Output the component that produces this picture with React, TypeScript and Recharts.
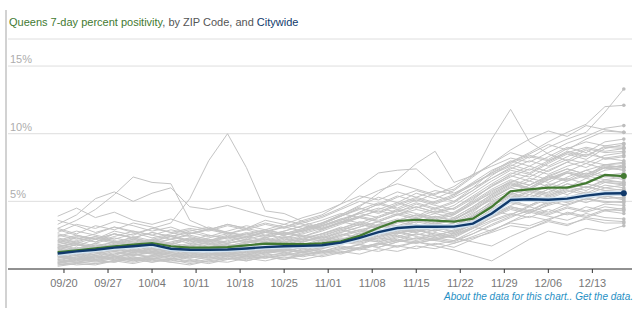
import { LineChart, Line, XAxis, YAxis, CartesianGrid } from "recharts";

// days counted from 09/20 (sampled every 3 days, 09/19 .. 12/18)
const dayOffsets = [-1, 2, 5, 8, 11, 14, 17, 20, 23, 26, 29, 32, 35, 38, 41, 44, 47, 50, 53, 56, 59, 62, 65, 68, 71, 74, 77, 80, 83, 86, 89];

const tickDays = [0, 7, 14, 21, 28, 35, 42, 49, 56, 63, 70, 77, 84];
const tickLabels = ["09/20", "09/27", "10/04", "10/11", "10/18", "10/25", "11/01", "11/08", "11/15", "11/22", "11/29", "12/06", "12/13"];

const yTicks = [5, 10, 15];

const queens = [1.25, 1.37, 1.52, 1.68, 1.8, 1.92, 1.68, 1.58, 1.58, 1.62, 1.74, 1.88, 1.86, 1.84, 1.9, 2.05, 2.45, 3.05, 3.55, 3.64, 3.58, 3.5, 3.72, 4.6, 5.75, 5.88, 6.02, 6.02, 6.35, 6.95, 6.87];
const citywide = [1.15, 1.3, 1.42, 1.58, 1.68, 1.8, 1.5, 1.42, 1.41, 1.44, 1.52, 1.62, 1.68, 1.71, 1.76, 1.95, 2.3, 2.72, 3.03, 3.12, 3.12, 3.13, 3.35, 4.1, 5.1, 5.15, 5.12, 5.2, 5.42, 5.58, 5.6];

// one list per ZIP code
const zipLines = [
  [0.3, 0.4, 0.6, 0.5, 0.8, 0.7, 0.5, 0.6, 0.4, 0.7, 0.9, 0.8, 1.0, 1.2, 1.1, 1.4, 1.6, 1.9, 1.7, 2.0, 1.8, 2.1, 2.6, 3.3, 3.9, 4.3, 4.0, 4.5, 4.2, 4.6, 4.4],
  [0.6, 0.5, 0.8, 1.0, 0.7, 0.9, 1.2, 1.0, 0.8, 1.1, 0.9, 1.2, 1.5, 1.3, 1.6, 1.9, 2.3, 2.1, 2.5, 2.2, 2.7, 2.4, 3.0, 3.8, 4.6, 4.3, 4.9, 5.4, 5.1, 5.6, 5.4],
  [1.0, 0.8, 0.6, 0.9, 1.1, 0.8, 0.7, 1.0, 1.2, 0.9, 1.1, 1.4, 1.3, 1.6, 1.9, 2.2, 2.0, 2.5, 2.8, 2.4, 2.2, 2.6, 3.1, 2.8, 3.5, 4.2, 3.9, 3.6, 4.1, 3.8, 3.7],
  [0.8, 1.1, 1.3, 1.0, 1.4, 1.2, 1.0, 1.3, 1.1, 1.4, 1.6, 1.3, 1.8, 1.6, 2.0, 2.4, 2.8, 2.6, 3.0, 3.3, 2.9, 3.2, 3.8, 4.6, 5.5, 5.9, 5.6, 6.3, 6.0, 6.6, 6.4],
  [0.4, 0.7, 0.5, 0.8, 0.6, 1.0, 1.3, 1.1, 1.5, 1.2, 1.0, 1.4, 1.7, 1.5, 1.8, 2.1, 1.9, 2.3, 2.7, 2.9, 2.6, 2.3, 2.0, 1.7, 2.4, 3.0, 3.6, 3.3, 3.7, 3.4, 3.4],
  [1.3, 1.5, 1.2, 1.6, 1.9, 1.5, 1.3, 1.6, 1.4, 1.7, 2.0, 1.8, 2.2, 2.0, 2.5, 2.9, 3.3, 3.0, 3.5, 3.8, 3.4, 3.7, 4.3, 5.2, 6.0, 5.7, 6.3, 6.0, 6.7, 6.4, 6.3],
  [0.9, 0.6, 1.0, 1.3, 1.1, 1.4, 1.7, 1.4, 1.2, 1.0, 1.3, 1.5, 1.4, 1.8, 1.6, 2.0, 2.4, 2.2, 2.6, 2.9, 2.5, 2.8, 3.2, 3.9, 4.5, 4.2, 4.7, 5.1, 5.5, 5.2, 5.3],
  [1.6, 1.3, 1.8, 1.5, 1.2, 1.6, 1.9, 1.7, 2.0, 1.8, 1.5, 1.9, 2.3, 2.0, 2.4, 2.9, 2.6, 3.1, 3.5, 3.2, 3.0, 3.4, 4.1, 4.9, 5.6, 6.2, 6.8, 6.5, 7.1, 6.8, 6.9],
  [0.5, 0.3, 0.4, 0.6, 0.9, 0.6, 0.8, 0.5, 0.7, 1.0, 0.8, 1.1, 1.0, 1.3, 1.2, 1.5, 1.8, 1.6, 2.0, 2.3, 2.1, 1.9, 2.3, 2.7, 3.2, 3.0, 3.5, 3.2, 3.8, 3.6, 3.5],
  [1.2, 1.0, 1.4, 1.7, 1.4, 1.8, 1.6, 1.3, 1.5, 1.8, 1.6, 2.0, 1.8, 2.2, 2.1, 2.5, 2.9, 3.2, 2.9, 2.7, 3.1, 3.4, 3.9, 4.8, 5.5, 5.2, 5.9, 5.5, 6.1, 5.8, 5.9],
  [2.0, 1.7, 2.2, 1.9, 2.4, 2.1, 1.8, 2.2, 2.0, 2.4, 2.2, 1.9, 2.3, 2.6, 3.0, 3.5, 3.9, 3.6, 4.1, 3.8, 4.3, 4.0, 4.8, 5.7, 6.5, 6.2, 6.9, 6.6, 7.3, 7.7, 7.5],
  [1.4, 1.8, 1.6, 1.3, 1.7, 2.0, 1.7, 1.5, 1.8, 1.6, 1.9, 2.2, 2.0, 2.4, 2.2, 2.7, 3.1, 3.5, 3.2, 3.6, 3.3, 3.7, 4.4, 5.3, 6.1, 6.7, 6.4, 7.1, 6.8, 7.5, 7.3],
  [2.4, 2.8, 2.5, 2.2, 2.6, 3.0, 2.7, 2.4, 2.1, 2.5, 2.3, 2.7, 2.5, 2.9, 3.3, 3.9, 4.4, 4.9, 4.5, 5.1, 4.7, 4.4, 5.2, 6.1, 7.0, 7.6, 7.2, 7.9, 8.5, 8.2, 8.4],
  [0.7, 0.9, 1.1, 1.4, 1.2, 1.5, 1.3, 1.7, 1.5, 1.3, 1.6, 1.4, 1.7, 1.5, 1.9, 2.3, 2.1, 2.6, 3.0, 2.7, 3.1, 2.8, 3.5, 4.4, 5.1, 5.7, 5.4, 5.9, 6.3, 6.0, 6.2],
  [1.8, 2.1, 2.4, 2.0, 2.3, 1.9, 2.2, 2.5, 2.2, 2.0, 2.4, 2.7, 2.5, 2.8, 3.2, 3.7, 4.1, 3.8, 4.3, 4.6, 4.2, 4.5, 5.4, 6.3, 7.1, 6.8, 7.5, 8.1, 7.8, 8.4, 8.6],
  [3.0, 2.6, 3.2, 2.9, 3.4, 3.1, 2.7, 3.0, 2.8, 3.2, 2.9, 3.3, 3.0, 3.4, 3.8, 4.4, 5.0, 4.7, 5.3, 5.8, 5.4, 5.0, 5.8, 6.9, 7.8, 8.4, 8.1, 8.9, 9.4, 9.1, 9.3],
  [1.1, 1.4, 1.2, 0.9, 1.2, 1.5, 1.8, 1.5, 1.3, 1.6, 1.4, 1.7, 1.5, 1.9, 1.7, 2.1, 2.5, 2.9, 2.6, 3.0, 2.8, 3.2, 4.0, 5.0, 5.6, 5.3, 5.9, 6.5, 6.9, 6.6, 6.8],
  [2.7, 3.3, 3.0, 3.5, 3.2, 2.8, 3.1, 2.6, 2.9, 3.3, 3.0, 3.6, 3.3, 3.8, 4.2, 4.8, 5.4, 5.1, 5.7, 5.3, 5.8, 5.5, 6.4, 7.3, 7.9, 8.5, 9.2, 8.8, 9.6, 10.2, 10.1],
  [0.5, 0.8, 0.6, 0.9, 0.7, 0.5, 0.8, 1.1, 0.9, 0.7, 1.0, 1.3, 1.1, 1.5, 1.3, 1.7, 1.5, 1.9, 2.2, 2.0, 1.7, 1.4, 1.0, 0.6, 1.4, 2.2, 2.8, 2.5, 3.0, 2.8, 3.2],
  [1.5, 1.2, 1.5, 1.8, 2.1, 1.8, 1.5, 1.8, 2.1, 1.9, 2.2, 2.0, 2.4, 2.2, 2.6, 3.1, 2.8, 3.3, 3.7, 3.4, 3.9, 3.6, 4.5, 5.4, 6.2, 5.9, 6.6, 7.1, 6.8, 7.5, 7.3],
  [0.2, 0.4, 0.3, 0.6, 0.4, 0.7, 0.5, 0.3, 0.6, 0.5, 0.8, 0.6, 0.9, 0.7, 1.0, 1.3, 1.1, 1.5, 1.3, 1.7, 1.5, 1.9, 2.4, 2.9, 3.4, 3.2, 3.7, 4.1, 3.8, 4.3, 4.1],
  [2.2, 1.9, 1.6, 2.0, 1.7, 2.2, 2.5, 2.1, 1.8, 2.1, 2.4, 2.1, 2.5, 2.8, 3.2, 3.6, 4.1, 4.5, 4.2, 4.8, 4.4, 4.9, 5.8, 6.7, 7.5, 7.1, 7.9, 8.6, 9.0, 8.7, 8.9],
  [1.0, 1.3, 1.6, 1.3, 1.0, 1.2, 1.0, 1.3, 1.1, 1.4, 1.2, 1.5, 1.3, 1.6, 1.9, 2.2, 2.0, 2.4, 2.7, 2.5, 2.9, 2.6, 3.3, 4.0, 4.6, 4.3, 5.0, 4.7, 5.2, 5.0, 4.9],
  [3.6, 3.2, 2.7, 3.1, 2.8, 2.5, 2.9, 2.6, 3.0, 2.7, 2.4, 2.8, 3.1, 3.5, 3.9, 4.5, 5.2, 5.8, 6.3, 5.9, 5.5, 6.1, 7.0, 7.6, 8.2, 7.9, 8.6, 9.3, 9.8, 10.4, 10.6],
  [0.6, 0.9, 0.7, 0.5, 0.8, 1.0, 0.8, 0.6, 0.9, 1.2, 1.0, 0.8, 1.1, 0.9, 1.2, 1.5, 1.8, 1.6, 2.0, 2.3, 2.1, 2.5, 3.0, 3.6, 4.1, 3.8, 4.4, 4.0, 4.6, 4.3, 4.5],
  [1.7, 1.4, 1.9, 2.3, 2.0, 1.7, 2.0, 2.3, 2.0, 2.3, 2.6, 2.3, 2.7, 2.4, 2.8, 3.3, 3.8, 3.5, 4.0, 4.4, 4.1, 4.5, 5.3, 6.1, 6.8, 7.4, 7.0, 7.6, 8.0, 7.7, 7.9],
  [1.3, 1.0, 1.2, 1.5, 1.3, 1.1, 1.4, 1.2, 1.0, 1.3, 1.6, 1.4, 1.7, 1.5, 1.8, 2.2, 2.6, 2.4, 2.8, 3.1, 2.8, 3.2, 3.9, 4.7, 5.3, 5.0, 5.4, 6.0, 5.6, 6.2, 6.0],
  [2.6, 2.3, 2.0, 2.4, 2.8, 2.5, 2.2, 2.6, 2.9, 2.6, 3.0, 3.4, 3.1, 3.6, 4.0, 4.8, 6.1, 7.1, 7.3, 7.4, 6.2, 5.6, 6.3, 7.0, 7.6, 8.3, 8.0, 8.7, 8.4, 9.0, 8.9],
  [1.9, 2.3, 2.0, 2.6, 2.3, 2.0, 2.4, 2.7, 2.4, 2.8, 3.2, 2.9, 3.3, 3.0, 3.4, 4.0, 4.6, 5.6, 6.6, 7.8, 8.7, 6.4, 6.9, 7.8, 8.8, 9.6, 10.2, 9.8, 10.6, 10.3, 10.1],
  [2.0, 2.4, 2.2, 2.8, 2.5, 3.0, 3.4, 5.2, 8.0, 10.0, 7.5, 4.3, 4.1, 3.5, 3.0, 3.4, 4.2, 4.8, 4.4, 4.9, 4.5, 5.0, 6.0, 7.2, 8.0, 7.6, 8.3, 9.0, 8.6, 9.4, 9.6],
  [3.0, 3.6, 4.4, 5.5, 6.8, 6.4, 6.3, 3.6, 3.0, 2.6, 2.9, 2.5, 2.8, 3.2, 2.9, 3.4, 3.9, 4.3, 4.0, 4.6, 4.2, 4.7, 5.6, 6.5, 7.3, 7.0, 7.8, 8.5, 8.1, 8.9, 9.2],
  [1.5, 1.8, 1.5, 1.9, 2.2, 1.9, 1.6, 1.9, 2.2, 1.9, 2.2, 2.5, 2.3, 2.7, 3.1, 3.6, 4.2, 4.8, 5.4, 5.0, 5.6, 5.9, 6.9, 9.6, 11.8, 9.4, 8.5, 8.0, 8.8, 8.1, 8.3],
  [2.1, 2.5, 2.2, 2.6, 2.3, 2.7, 2.4, 2.1, 2.5, 2.2, 2.6, 2.9, 2.6, 3.0, 3.4, 4.0, 4.7, 5.3, 4.9, 5.6, 5.2, 5.8, 6.8, 7.8, 8.6, 8.2, 9.0, 9.6, 10.1, 11.6, 13.3],
  [1.6, 1.9, 2.3, 2.0, 1.7, 2.1, 2.4, 2.0, 2.3, 2.6, 2.3, 2.8, 2.5, 2.9, 3.3, 3.9, 4.5, 4.2, 4.8, 5.3, 4.9, 5.4, 6.3, 7.1, 7.9, 8.6, 9.4, 10.1, 10.7, 12.0, 12.1],
  [3.9, 4.5, 3.8, 4.2, 3.6, 3.3, 3.7, 3.2, 2.9, 3.3, 3.0, 2.7, 3.1, 2.8, 3.2, 3.7, 3.4, 3.9, 4.4, 4.1, 3.8, 4.2, 5.0, 5.9, 6.6, 6.2, 6.9, 7.4, 7.0, 7.5, 7.6],
  [3.3, 4.0, 5.2, 5.7, 5.0, 5.6, 6.0, 4.6, 4.4, 4.7, 4.3, 3.9, 3.6, 3.3, 3.0, 3.4, 3.8, 3.5, 4.0, 3.7, 4.1, 3.8, 4.6, 5.5, 6.3, 5.9, 6.6, 7.1, 6.7, 7.3, 7.5],
  [0.9, 1.2, 1.0, 0.7, 1.0, 1.3, 1.1, 0.9, 1.2, 1.0, 1.3, 1.1, 1.4, 1.2, 1.5, 1.8, 2.2, 2.0, 2.4, 2.1, 2.5, 2.3, 3.0, 4.1, 5.0, 4.7, 5.3, 5.8, 5.5, 6.0, 5.8],
  [1.4, 1.1, 0.8, 1.1, 1.4, 1.2, 1.5, 1.3, 1.6, 1.4, 1.2, 1.5, 1.9, 1.7, 2.1, 2.6, 2.3, 2.8, 3.2, 2.9, 3.3, 3.0, 3.7, 4.5, 5.2, 5.8, 5.5, 6.1, 5.8, 6.4, 6.2],
  [0.4, 0.6, 0.9, 0.7, 0.5, 0.8, 1.0, 0.7, 0.5, 0.8, 0.6, 0.9, 0.7, 1.0, 1.4, 1.2, 1.6, 1.9, 1.6, 2.0, 2.3, 2.1, 2.8, 3.5, 4.0, 4.6, 4.2, 4.8, 5.2, 4.9, 5.0],
  [2.1, 1.8, 1.5, 1.8, 2.0, 1.7, 1.4, 1.7, 1.9, 1.6, 1.9, 2.2, 1.9, 2.3, 2.6, 3.0, 3.5, 3.2, 3.6, 4.0, 3.7, 4.1, 4.9, 5.8, 6.4, 6.0, 6.7, 7.2, 6.9, 7.7, 7.8],
  [1.1, 0.8, 1.1, 1.4, 1.7, 1.4, 1.2, 1.5, 1.3, 1.1, 1.4, 1.7, 1.5, 1.8, 2.2, 2.0, 2.5, 2.9, 2.6, 3.1, 3.4, 3.1, 3.6, 4.2, 4.9, 5.5, 5.2, 5.7, 6.1, 5.8, 5.7],
  [0.7, 0.5, 0.7, 0.9, 0.6, 0.8, 0.6, 0.9, 0.7, 0.9, 1.1, 0.9, 1.2, 1.0, 1.3, 1.6, 1.4, 1.8, 2.1, 1.9, 2.2, 2.0, 2.6, 3.2, 3.8, 4.4, 4.1, 4.6, 4.3, 4.8, 4.7],
  [1.8, 1.5, 1.7, 2.0, 1.6, 1.9, 2.2, 1.9, 1.6, 1.9, 2.1, 1.8, 2.1, 2.5, 2.3, 2.8, 3.3, 3.0, 3.4, 3.7, 3.3, 3.8, 4.6, 5.5, 6.3, 6.0, 6.8, 7.4, 7.0, 7.6, 7.5],
  [1.2, 1.5, 1.9, 1.6, 1.3, 1.7, 1.4, 1.2, 1.5, 1.3, 1.7, 1.5, 1.8, 2.1, 2.4, 2.1, 2.7, 3.3, 3.0, 3.5, 3.9, 3.5, 4.2, 5.3, 6.0, 6.5, 6.1, 6.8, 7.3, 6.9, 7.1],
  [0.8, 1.0, 0.7, 1.1, 1.4, 1.1, 0.9, 1.2, 1.0, 1.3, 1.1, 1.4, 1.2, 1.4, 1.7, 2.0, 2.4, 2.7, 2.4, 2.8, 3.1, 2.7, 3.4, 4.2, 4.9, 4.6, 5.2, 4.9, 5.5, 5.3, 5.6],
  [2.5, 2.2, 2.6, 3.1, 2.7, 2.3, 2.6, 2.9, 2.5, 2.3, 2.7, 2.4, 2.8, 3.2, 3.6, 4.1, 3.8, 4.4, 4.9, 4.5, 5.0, 5.5, 6.2, 7.1, 7.7, 7.3, 8.0, 8.6, 8.3, 9.1, 9.0],
  [1.0, 0.7, 0.9, 1.2, 1.0, 1.3, 1.1, 0.8, 1.0, 1.2, 1.4, 1.2, 1.5, 1.3, 1.6, 2.0, 1.8, 2.3, 2.1, 2.6, 2.4, 2.9, 3.5, 4.3, 4.0, 4.7, 5.3, 5.0, 5.6, 5.4, 5.2],
  [1.6, 2.0, 1.7, 1.4, 1.8, 2.1, 1.8, 2.2, 1.9, 1.7, 2.0, 2.3, 2.0, 2.2, 2.6, 3.0, 3.4, 3.1, 3.6, 4.0, 3.6, 4.0, 4.9, 5.6, 6.4, 7.0, 6.6, 7.2, 7.8, 7.4, 7.7],
  [0.3, 0.5, 0.4, 0.6, 0.8, 0.5, 0.7, 0.4, 0.6, 0.8, 0.6, 0.9, 0.7, 1.1, 0.9, 1.2, 1.5, 1.3, 1.7, 1.5, 1.9, 1.6, 2.2, 2.8, 3.5, 3.9, 3.6, 4.2, 3.9, 4.4, 4.3],
  [2.9, 2.5, 2.2, 2.6, 2.3, 2.7, 2.4, 2.8, 3.1, 2.7, 2.5, 2.9, 2.6, 3.0, 3.4, 3.9, 4.5, 4.1, 4.7, 5.2, 4.8, 5.3, 6.0, 6.7, 7.4, 8.0, 7.6, 8.3, 8.9, 8.6, 8.7],
  [1.3, 1.6, 1.4, 1.7, 1.5, 1.3, 1.6, 1.4, 1.7, 1.5, 1.8, 1.6, 1.9, 1.7, 2.0, 2.5, 2.9, 2.7, 3.1, 2.8, 3.3, 3.6, 4.4, 5.1, 5.8, 5.5, 6.2, 6.7, 6.3, 6.9, 6.6],
  [0.9, 0.7, 1.0, 0.8, 1.1, 0.9, 1.2, 1.0, 0.8, 1.1, 0.9, 1.2, 1.4, 1.2, 1.5, 1.9, 2.2, 2.0, 2.3, 2.6, 2.3, 2.7, 3.3, 4.0, 4.7, 5.2, 4.8, 5.3, 5.7, 5.4, 5.5],
  [2.3, 2.0, 2.4, 2.1, 1.8, 2.2, 1.9, 2.3, 2.1, 2.4, 2.0, 2.3, 2.7, 2.4, 2.9, 3.5, 3.2, 3.8, 4.3, 3.9, 4.5, 4.1, 5.1, 6.2, 6.9, 6.5, 7.3, 7.9, 7.5, 8.2, 8.0],
  [1.7, 1.9, 1.5, 1.8, 2.2, 1.8, 1.5, 1.2, 1.6, 1.4, 1.7, 2.0, 1.7, 2.0, 2.3, 2.7, 3.1, 3.5, 3.1, 3.5, 3.2, 3.0, 3.9, 4.8, 5.4, 5.1, 5.7, 6.3, 6.0, 6.5, 6.4],
  [0.5, 0.7, 0.9, 0.6, 0.9, 0.7, 1.0, 0.8, 1.1, 0.9, 0.7, 1.0, 0.8, 1.1, 1.3, 1.1, 1.5, 1.8, 2.1, 1.9, 2.2, 2.5, 3.1, 3.8, 4.4, 4.1, 4.8, 5.3, 4.9, 5.4, 5.1],
];

const GREEN = "#437a32";
const BLUE = "#113a6b";
const GRAY = "#c4c4c4";
const FONT = "Arial, 'Liberation Sans', sans-serif";

const rows = dayOffsets.map((day, i) => {
  const row: Record<string, number> = { day, queens: queens[i], citywide: citywide[i] };
  zipLines.forEach((vals, z) => {
    row["z" + z] = vals[i];
  });
  return row;
});

const lastIndex = dayOffsets.length - 1;

const endDot = (color: string, r: number) => (props: any) => {
  const { cx, cy, index } = props;
  if (index !== lastIndex || cx == null || cy == null) return <g key={"e" + index} />;
  return <circle key={"e" + index} cx={cx} cy={cy} r={r} fill={color} stroke="none" />;
};

const renderYTick = (props: any) => {
  const { y, payload } = props;
  return (
    <text key={"y" + payload.value} x={10} y={y - 3} fontSize={11} fill="#adadad" fontFamily={FONT} textAnchor="start">
      {payload.value}%
    </text>
  );
};

export default function App() {
  return (
    <div style={{ position: "absolute", left: 0, top: 0, width: 643, height: 321, background: "#fff", fontFamily: FONT }}>
      <div style={{ position: "absolute", left: 5, top: 10, height: 298, borderLeft: "2px solid #d2d2d2" }} />
      <div style={{ position: "absolute", left: 9, top: 16, fontSize: 11, lineHeight: "13px", color: "#555", whiteSpace: "nowrap" }}>
        <span style={{ color: GREEN }}>Queens 7-day percent positivity</span>, by ZIP Code, and{" "}
        <span style={{ color: BLUE }}>Citywide</span>
      </div>
      <div style={{ position: "absolute", left: 0, top: 0 }}>
        <LineChart width={643} height={321} data={rows} margin={{ top: 39, right: 11, bottom: 0, left: 8 }}>
          <CartesianGrid vertical={false} stroke="#dedede" />
          <XAxis
            dataKey="day"
            type="number"
            domain={[-8.9, 90.3]}
            ticks={tickDays}
            tickFormatter={(d: number) => tickLabels[tickDays.indexOf(d)] ?? ""}
            height={52}
            stroke="#333"
            tickSize={4}
            tickMargin={6}
            tick={{ fill: "#777", fontSize: 11, fontFamily: FONT }}
            allowDataOverflow
          />
          <YAxis
            type="number"
            domain={[0, 17]}
            ticks={yTicks}
            orientation="left"
            mirror
            width={40}
            axisLine={false}
            tickLine={false}
            tick={renderYTick}
          />
          {zipLines.map((_, z) => (
            <Line
              key={"z" + z}
              dataKey={"z" + z}
              stroke={GRAY}
              strokeWidth={1}
              dot={endDot("#bdbdbd", 1.8)}
              activeDot={false}
              isAnimationActive={false}
              type="linear"
            />
          ))}
          <Line dataKey="citywide" stroke="#d3e4f2" strokeWidth={5} dot={false} activeDot={false} isAnimationActive={false} type="linear" />
          <Line dataKey="queens" stroke={GREEN} strokeWidth={2.2} dot={endDot(GREEN, 3)} activeDot={false} isAnimationActive={false} type="linear" />
          <Line dataKey="citywide" stroke={BLUE} strokeWidth={2.4} dot={endDot(BLUE, 3)} activeDot={false} isAnimationActive={false} type="linear" />
        </LineChart>
      </div>
      <div style={{ position: "absolute", right: 10, top: 291, fontSize: 10, lineHeight: "12px", fontStyle: "italic", color: "#1f8fc4", whiteSpace: "nowrap" }}>
        About the data for this chart.. Get the data.
      </div>
    </div>
  );
}
